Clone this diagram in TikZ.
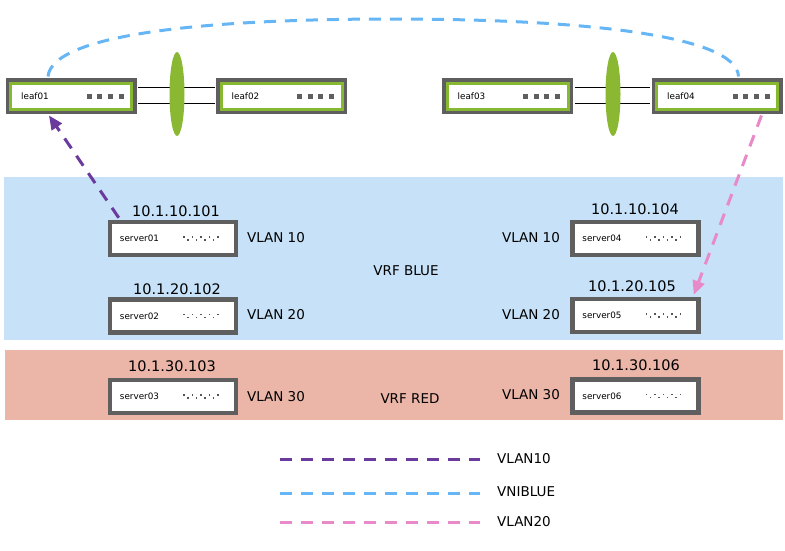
\documentclass[tikz,border=0pt]{standalone}
\usepackage{fontspec}
\setmainfont{DejaVu Sans}
\usetikzlibrary{arrows.meta,calc,shapes.geometric}
\definecolor{leafgray}{HTML}{5F5F5F}
\definecolor{leafgreen}{HTML}{86B832}
\definecolor{laggreen}{HTML}{8AB833}
\definecolor{blueband}{HTML}{C6E1F8}
\definecolor{redband}{HTML}{EBB5A8}
\definecolor{vpurple}{HTML}{6A3A9C}
\definecolor{vblue}{HTML}{66B6F5}
\definecolor{vpink}{HTML}{E88AC9}
\definecolor{dotgray}{HTML}{555555}
\begin{document}
\begin{tikzpicture}[x=1pt,y=-1pt,
  leafbox/.style={rectangle, minimum width=121pt, minimum height=26pt, inner sep=0pt,
    fill=white, draw=leafgreen, line width=3pt, preaction={draw=leafgray, line width=10pt}},
  serverbox/.style={rectangle, minimum width=126pt, minimum height=33pt, inner sep=0pt,
    fill=white, draw=leafgray, line width=4.5pt},
  lag/.style={ellipse, minimum width=15pt, minimum height=84pt, inner sep=0pt, fill=laggreen, draw=none},
  smalltext/.style={font=\fontsize{8.8}{10}\selectfont, inner sep=0pt, anchor=west},
  iptext/.style={font=\fontsize{14.5}{16}\selectfont, inner sep=0pt},
  vlantext/.style={font=\fontsize{13.5}{15}\selectfont, inner sep=0pt},
  linkline/.style={draw=black, line width=0.9pt},
  dashline/.style={line width=3pt, dash pattern=on 12pt off 9pt},
  vlanten/.style={dashline, draw=vpurple},
  vniblue/.style={dashline, draw=vblue},
  vlantwenty/.style={dashline, draw=vpink},
  tip/.style={-{Triangle[length=14pt,width=12pt]}}
]
\useasboundingbox (0,0) rectangle (785,550);
% bands
\fill[blueband] (4,177) rectangle (783,340);
\fill[redband] (5,350) rectangle (783,420);

% leaves
\node[leafbox] (leaf01) at (71,96) {};
\node[leafbox] (leaf02) at (281.5,96) {};
\node[leafbox] (leaf03) at (507.5,96) {};
\node[leafbox] (leaf04) at (717,96) {};
\foreach \l in {leaf01,leaf02,leaf03,leaf04}{
  \node[smalltext] (\l-name) at ($(\l.west)+(12,0)$) {\l};
  \foreach \i in {0,1,2,3}{
    \fill[leafgray] ($(\l.east)+(-46.5+\i*10.7,-2.5)$) rectangle +(5,5);
  }
}
% links
\draw[linkline] ($(leaf01.east)+(5,-8.5)$) -- ($(leaf02.west)+(-5,-8.5)$);
\draw[linkline] ($(leaf01.east)+(5,7.5)$) -- ($(leaf02.west)+(-5,7.5)$);
\draw[linkline] ($(leaf03.east)+(5,-8.5)$) -- ($(leaf04.west)+(-5,-8.5)$);
\draw[linkline] ($(leaf03.east)+(5,7.5)$) -- ($(leaf04.west)+(-5,7.5)$);
\node[lag] (lag1) at (177,94) {};
\node[lag] (lag2) at (613,94) {};

% servers
\node[serverbox] (server01) at (173,238.5) {};
\node[serverbox] (server02) at (173,316) {};
\node[serverbox] (server03) at (173,396.5) {};
\node[serverbox] (server04) at (635.5,238.5) {};
\node[serverbox] (server05) at (635.5,315.5) {};
\node[serverbox] (server06) at (635.5,396) {};
\foreach \s in {server01,server02,server03,server04,server05,server06}{
  \node[smalltext] (\s-name) at ($(\s.west)+(12,0)$) {\s};
  \foreach \i in {0,2,4,6,8}{
    \fill[dotgray] ($(\s.center)+(10+\i*4.25,-2.5)$) rectangle +(1.6,1.6);
  }
  \foreach \i in {1,3,5,7}{
    \fill[dotgray] ($(\s.center)+(10+\i*4.25,0.8)$) rectangle +(1.6,1.6);
  }
}

% addresses
\node[iptext] (ip101) at (176,211) {10.1.10.101};
\node[iptext] (ip102) at (177,289) {10.1.20.102};
\node[iptext] (ip103) at (172,366) {10.1.30.103};
\node[iptext] (ip104) at (635,209) {10.1.10.104};
\node[iptext] (ip105) at (632,286) {10.1.20.105};
\node[iptext] (ip106) at (636,365) {10.1.30.106};

% vlan labels
\node[vlantext] (vl10a) at (276,238) {VLAN 10};
\node[vlantext] (vl20a) at (276,315) {VLAN 20};
\node[vlantext] (vl30a) at (276,397) {VLAN 30};
\node[vlantext] (vl10b) at (531,238) {VLAN 10};
\node[vlantext] (vl20b) at (531,315) {VLAN 20};
\node[vlantext] (vl30b) at (531,395) {VLAN 30};
\node[vlantext] (vrfblue) at (406,271) {VRF BLUE};
\node[vlantext] (vrfred) at (410,399) {VRF RED};

% connectors
\coordinate (arctop) at (392,19);
\draw[vniblue] ($(leaf01.north west)+(39,-5)$)
  .. controls (52,35) and (200,19) .. (arctop)
  .. controls (580,19) and (737,35) .. ($(leaf04.north west)+(83.5,-5)$);
\draw[vlanten, tip] ($(server01.north west)+(11,-2)$) -- ($(leaf01.south west)+(40,5)$);
\draw[vlantwenty, tip] ($(leaf04.south west)+(106.5,5)$) -- ($(server05.north west)+(123.5,-2)$);

% legend
\coordinate (lg1a) at (280,459); \coordinate (lg1b) at (480,459);
\coordinate (lg2a) at (280,493); \coordinate (lg2b) at (480,493);
\coordinate (lg3a) at (280,522); \coordinate (lg3b) at (480,522);
\draw[vlanten] (lg1a) -- (lg1b);
\draw[vniblue] (lg2a) -- (lg2b);
\draw[vlantwenty] (lg3a) -- (lg3b);
\node[vlantext, anchor=west] (lgt1) at (497,459) {VLAN10};
\node[vlantext, anchor=west] (lgt2) at (497,492) {VNIBLUE};
\node[vlantext, anchor=west] (lgt3) at (497,522) {VLAN20};
\end{tikzpicture}
\end{document}
